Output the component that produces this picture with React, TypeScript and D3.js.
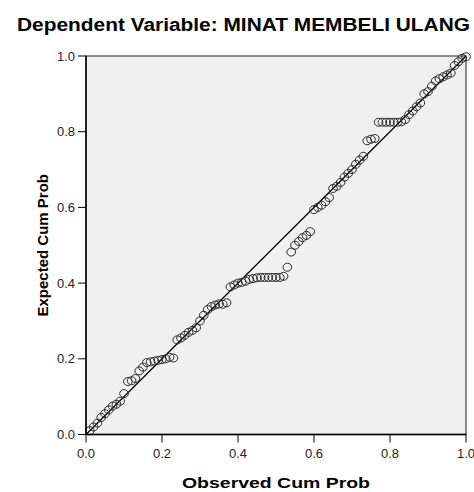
// @ts-nocheck
import * as d3 from "d3";
import React from "react";

const title = "Dependent Variable: MINAT MEMBELI ULANG";
const xTitle = "Observed Cum Prob";
const yTitle = "Expected Cum Prob";
const ticks = [0, 0.2, 0.4, 0.6, 0.8, 1.0];

const observed = [
  0.01, 0.02, 0.03, 0.04, 0.05, 0.06, 0.07, 0.08, 0.09, 0.10,
  0.11, 0.12, 0.13, 0.14, 0.15, 0.16, 0.17, 0.18, 0.19, 0.20,
  0.21, 0.22, 0.23, 0.24, 0.25, 0.26, 0.27, 0.28, 0.29, 0.30,
  0.31, 0.32, 0.33, 0.34, 0.35, 0.36, 0.37, 0.38, 0.39, 0.40,
  0.41, 0.42, 0.43, 0.44, 0.45, 0.46, 0.47, 0.48, 0.49, 0.50,
  0.51, 0.52, 0.53, 0.54, 0.55, 0.56, 0.57, 0.58, 0.59, 0.60,
  0.61, 0.62, 0.63, 0.64, 0.65, 0.66, 0.67, 0.68, 0.69, 0.70,
  0.71, 0.72, 0.73, 0.74, 0.75, 0.76, 0.77, 0.78, 0.79, 0.80,
  0.81, 0.82, 0.83, 0.84, 0.85, 0.86, 0.87, 0.88, 0.89, 0.90,
  0.91, 0.92, 0.93, 0.94, 0.95, 0.96, 0.97, 0.98, 0.99, 1.00,
];

const expected = [
  0.010, 0.020, 0.030, 0.045, 0.055, 0.065, 0.075, 0.080, 0.088, 0.108,
  0.140, 0.142, 0.148, 0.168, 0.178, 0.190, 0.192, 0.194, 0.196, 0.198,
  0.200, 0.204, 0.202, 0.250, 0.255, 0.262, 0.270, 0.275, 0.282, 0.300,
  0.315, 0.330, 0.338, 0.342, 0.345, 0.344, 0.348, 0.390, 0.395, 0.400,
  0.402, 0.405, 0.410, 0.412, 0.414, 0.415, 0.415, 0.415, 0.415, 0.415,
  0.415, 0.418, 0.442, 0.482, 0.500, 0.510, 0.520, 0.526, 0.536, 0.594,
  0.600, 0.606, 0.615, 0.626, 0.650, 0.656, 0.666, 0.680, 0.690, 0.700,
  0.714, 0.725, 0.735, 0.776, 0.780, 0.782, 0.825, 0.825, 0.825, 0.825,
  0.825, 0.825, 0.826, 0.832, 0.845, 0.855, 0.866, 0.876, 0.900, 0.906,
  0.920, 0.934, 0.940, 0.945, 0.950, 0.955, 0.975, 0.985, 0.994, 0.998,
];

export default function App() {
  const width = 474;
  const height = 492;
  const left = 86, right = 466, top = 56, bottom = 434.5;

  const x = d3.scaleLinear().domain([0, 1]).range([left, right]);
  const y = d3.scaleLinear().domain([0, 1]).range([bottom, top]);
  const fmt = d3.format(".1f");
  const font = "Arial, 'Liberation Sans', sans-serif";

  return (
    <svg width={width} height={height} style={{ position: "absolute", left: 0, top: 0 }} fontFamily={font}>
      <rect width={width} height={height} fill="#fff" />
      <text x={17} y={30.5} fontSize={17.5} fontWeight="bold" fill="#000"
        textLength={453} lengthAdjust="spacingAndGlyphs">{title}</text>

      <rect x={left} y={top} width={right - left} height={bottom - top} fill="#f0f0f0" stroke="#666" strokeWidth={1.5} />

      {/* reference line */}
      <line x1={x(0)} y1={y(0)} x2={x(1)} y2={y(1)} stroke="#000" strokeWidth={1.2} />

      {observed.map((o, i) => (
        <ellipse key={i} cx={x(o)} cy={y(expected[i])} rx={4.3} ry={4} fill="none" stroke="#2a2a2a" strokeWidth={1} />
      ))}

      {/* axes */}
      <line x1={left} y1={top} x2={left} y2={bottom} stroke="#000" strokeWidth={1.5} />
      <line x1={left} y1={bottom} x2={right} y2={bottom} stroke="#000" strokeWidth={1.5} />
      {ticks.map((t) => (
        <g key={"x" + t}>
          <line x1={x(t)} x2={x(t)} y1={bottom} y2={bottom + 8} stroke="#000" />
          <text x={x(t)} y={458} textAnchor="middle" fontSize={13} fill="#222">{fmt(t)}</text>
        </g>
      ))}
      {ticks.map((t) => (
        <g key={"y" + t}>
          <line x1={left - 8} x2={left} y1={y(t)} y2={y(t)} stroke="#000" />
          <text x={75} y={y(t) + 4.5} textAnchor="end" fontSize={13} fill="#222">{fmt(t)}</text>
        </g>
      ))}

      <text x={182} y={488} fontSize={15.5} fontWeight="bold" fill="#000"
        textLength={188} lengthAdjust="spacingAndGlyphs">{xTitle}</text>
      <text transform={`translate(48,${(top + bottom) / 2}) rotate(-90)`} textAnchor="middle" fontSize={15} fontWeight="bold" fill="#000">{yTitle}</text>
    </svg>
  );
}
